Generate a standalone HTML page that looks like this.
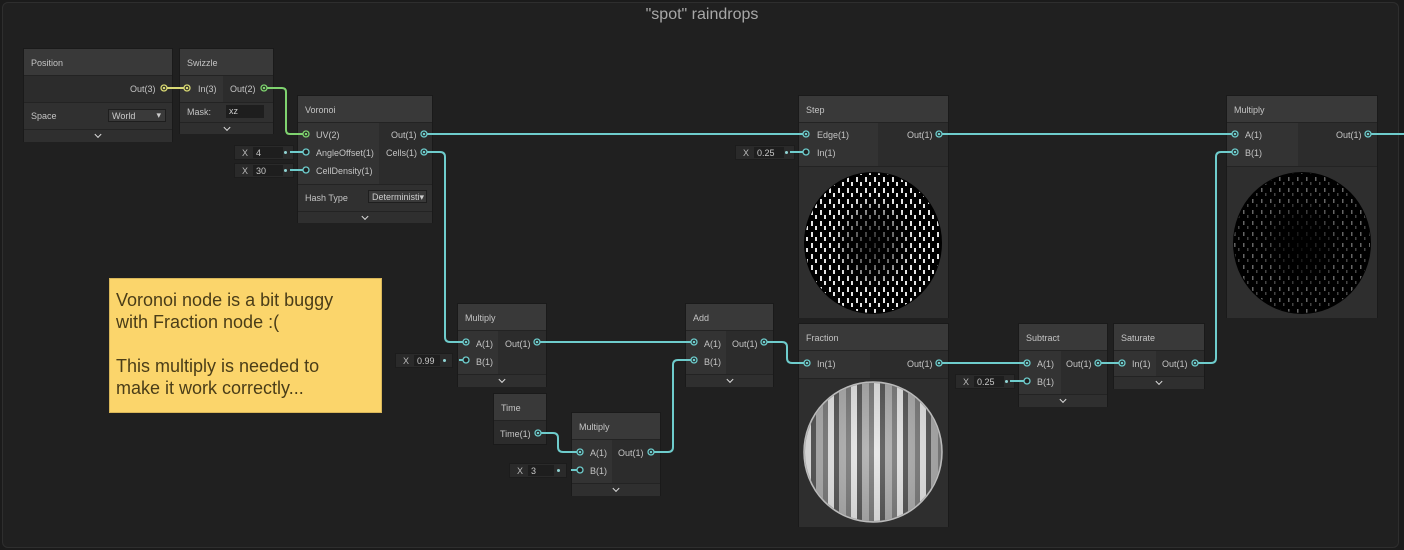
<!DOCTYPE html>
<html><head><meta charset="utf-8">
<style>
*{box-sizing:border-box;margin:0;padding:0}
body{width:1404px;height:550px;background:#1b1b1b;overflow:hidden;position:relative;font-family:"Liberation Sans",sans-serif;font-size:9px;color:#c4c4c4}
#grp{position:absolute;left:2px;top:2px;width:1397px;height:546px;background:#202020;border:1px solid #2e2e2e;border-radius:6px}
#title{position:absolute;left:0;width:1404px;top:6px;text-align:center;font-size:16px;color:#a8a8a8}
.n{position:absolute;background:#2c2c2c;border:1px solid #1a1a1a}
.h{position:absolute;left:0;right:0;top:0;background:#393939;border-bottom:1px solid #232323;padding:9px 0 0 7px;color:#c4c4c4}
.l{position:absolute;background:#333}
.t{position:absolute;white-space:nowrap}
.chev{position:absolute;left:0;right:0;background:#2f2f2f;border-top:1px solid #232323}
.chev::after{content:"";position:absolute;left:50%;top:2px;width:4px;height:4px;border-right:1.5px solid #ddd;border-bottom:1.5px solid #ddd;transform:translateX(-50%) rotate(45deg)}
.f{position:absolute;height:15px;background:#2a2a2a;border:1px solid #1c1c1c}
.f span{position:absolute;left:7px;top:2px;color:#bbb}
.f i{position:absolute;left:18px;top:1px;height:11px;width:30px;background:#1e1e1e;font-style:normal;padding:1px 3px;color:#c8c8c8}
.f b{position:absolute;right:6px;top:5px;width:3px;height:3px;border-radius:50%;background:#8fd3d3}
.pv{position:absolute;left:0;right:0;background:#2e2e2e;border-top:1px solid #232323}
.dd{position:absolute;background:#3a3a3a;border:1px solid #1e1e1e;padding:1px 3px;color:#ccc}
</style></head><body>
<div id="grp"></div>
<div id="title">"spot" raindrops</div>

<div class="n" style="left:23px;top:48px;width:150px;height:94px">
 <div class="h" style="height:27px">Position</div>
 <div class="t" style="left:106px;top:35px">Out(3)</div>
 <div style="position:absolute;left:0;right:0;top:53px;height:27px;background:#303030;border-top:1px solid #232323"></div>
 <div class="t" style="left:7px;top:62px">Space</div>
 <div class="dd" style="left:84px;top:60px;width:58px;height:13px">World<span style="position:absolute;right:4px;top:0">▾</span></div>
 <div class="chev" style="top:80px;height:13px"></div>
</div>
<div class="n" style="left:179px;top:48px;width:95px;height:86px">
 <div class="h" style="height:27px">Swizzle</div>
 <div class="l" style="left:0;top:27px;width:43px;height:26px"></div>
 <div class="t" style="left:18px;top:35px">In(3)</div>
 <div class="t" style="left:50px;top:35px">Out(2)</div>
 <div style="position:absolute;left:0;right:0;top:53px;height:20px;background:#303030;border-top:1px solid #232323"></div>
 <div class="t" style="left:7px;top:58px">Mask:</div>
 <div style="position:absolute;left:46px;top:56px;width:38px;height:13px;background:#1e1e1e;padding:1px 3px;color:#ccc">xz</div>
 <div class="chev" style="top:73px;height:12px"></div>
</div>
<div class="n" style="left:297px;top:95px;width:136px;height:128px">
 <div class="h" style="height:27px">Voronoi</div>
 <div class="l" style="left:0;top:27px;width:81px;height:61px"></div>
 <div class="t" style="left:18px;top:34px">UV(2)</div>
 <div class="t" style="left:18px;top:52px">AngleOffset(1)</div>
 <div class="t" style="left:18px;top:70px">CellDensity(1)</div>
 <div class="t" style="left:93px;top:34px">Out(1)</div>
 <div class="t" style="left:88px;top:52px">Cells(1)</div>
 <div style="position:absolute;left:0;right:0;top:88px;height:27px;background:#303030;border-top:1px solid #232323"></div>
 <div class="t" style="left:7px;top:97px">Hash Type</div>
 <div class="dd" style="left:70px;top:94px;width:59px;height:13px;overflow:hidden">Deterministi▾</div>
 <div class="chev" style="top:115px;height:12px"></div>
</div>
<div class="f" style="left:234px;top:145px;width:60px"><span>X</span><i>4</i><b></b></div>
<div class="f" style="left:234px;top:163px;width:60px"><span>X</span><i>30</i><b></b></div>

<div class="n" style="left:798px;top:95px;width:151px;height:223px">
 <div class="h" style="height:27px">Step</div>
 <div class="l" style="left:0;top:27px;width:79px;height:43px"></div>
 <div class="t" style="left:18px;top:34px">Edge(1)</div>
 <div class="t" style="left:18px;top:52px">In(1)</div>
 <div class="t" style="left:108px;top:34px">Out(1)</div>
 <div class="pv" style="top:70px;height:152px"></div>
</div>
<div class="f" style="left:735px;top:145px;width:60px"><span>X</span><i>0.25</i><b></b></div>

<div class="n" style="left:1226px;top:95px;width:152px;height:223px">
 <div class="h" style="height:27px">Multiply</div>
 <div class="l" style="left:0;top:27px;width:71px;height:43px"></div>
 <div class="t" style="left:18px;top:34px">A(1)</div>
 <div class="t" style="left:18px;top:52px">B(1)</div>
 <div class="t" style="left:109px;top:34px">Out(1)</div>
 <div class="pv" style="top:70px;height:152px"></div>
</div>

<div class="n" style="left:798px;top:323px;width:151px;height:204px">
 <div class="h" style="height:27px">Fraction</div>
 <div class="l" style="left:0;top:27px;width:71px;height:27px"></div>
 <div class="t" style="left:18px;top:35px">In(1)</div>
 <div class="t" style="left:108px;top:35px">Out(1)</div>
 <div class="pv" style="top:54px;height:149px"></div>
</div>

<div class="n" style="left:1018px;top:323px;width:90px;height:84px">
 <div class="h" style="height:27px">Subtract</div>
 <div class="l" style="left:0;top:27px;width:42px;height:43px"></div>
 <div class="t" style="left:18px;top:35px">A(1)</div>
 <div class="t" style="left:18px;top:53px">B(1)</div>
 <div class="t" style="left:47px;top:35px">Out(1)</div>
 <div class="chev" style="top:70px;height:13px"></div>
</div>
<div class="f" style="left:955px;top:374px;width:60px"><span>X</span><i>0.25</i><b></b></div>

<div class="n" style="left:1113px;top:323px;width:92px;height:66px">
 <div class="h" style="height:27px">Saturate</div>
 <div class="l" style="left:0;top:27px;width:42px;height:25px"></div>
 <div class="t" style="left:18px;top:35px">In(1)</div>
 <div class="t" style="left:48px;top:35px">Out(1)</div>
 <div class="chev" style="top:52px;height:13px"></div>
</div>

<div class="n" style="left:457px;top:303px;width:90px;height:84px">
 <div class="h" style="height:27px">Multiply</div>
 <div class="l" style="left:0;top:27px;width:40px;height:43px"></div>
 <div class="t" style="left:18px;top:35px">A(1)</div>
 <div class="t" style="left:18px;top:53px">B(1)</div>
 <div class="t" style="left:47px;top:35px">Out(1)</div>
 <div class="chev" style="top:70px;height:13px"></div>
</div>
<div class="f" style="left:395px;top:353px;width:58px"><span>X</span><i style="width:26px;overflow:hidden">0.99</i><b></b></div>

<div class="n" style="left:685px;top:303px;width:89px;height:84px">
 <div class="h" style="height:27px">Add</div>
 <div class="l" style="left:0;top:27px;width:40px;height:43px"></div>
 <div class="t" style="left:18px;top:35px">A(1)</div>
 <div class="t" style="left:18px;top:53px">B(1)</div>
 <div class="t" style="left:46px;top:35px">Out(1)</div>
 <div class="chev" style="top:70px;height:13px"></div>
</div>

<div class="n" style="left:493px;top:393px;width:54px;height:52px">
 <div class="h" style="height:27px">Time</div>
 <div class="t" style="left:6px;top:35px">Time(1)</div>
</div>

<div class="n" style="left:571px;top:412px;width:90px;height:84px">
 <div class="h" style="height:27px">Multiply</div>
 <div class="l" style="left:0;top:27px;width:40px;height:43px"></div>
 <div class="t" style="left:18px;top:35px">A(1)</div>
 <div class="t" style="left:18px;top:53px">B(1)</div>
 <div class="t" style="left:46px;top:35px">Out(1)</div>
 <div class="chev" style="top:70px;height:13px"></div>
</div>
<div class="f" style="left:509px;top:463px;width:58px"><span>X</span><i style="width:26px">3</i><b></b></div>

<div style="position:absolute;left:109px;top:278px;width:273px;height:135px;background:#fbd56b;border:1px solid #d8b65a;padding:10px 6px;font-size:18px;line-height:22px;color:#4a3d18">Voronoi node is a bit buggy<br>with Fraction node :(<br><br>This multiply is needed to<br>make it work correctly...</div>

<svg width="1404" height="550" style="position:absolute;left:0;top:0">
<defs>
 <pattern id="dash" width="9" height="11" patternUnits="userSpaceOnUse">
  <rect x="1" y="1" width="2" height="5" fill="#fff"/><rect x="5" y="6" width="2" height="4" fill="#fff"/>
 </pattern>
 <pattern id="dash2" width="9" height="11" patternUnits="userSpaceOnUse">
  <rect x="1" y="1" width="1.5" height="4" fill="#666"/><rect x="5" y="6" width="1.5" height="3" fill="#444"/>
 </pattern>
 <pattern id="strip" width="23" height="40" patternUnits="userSpaceOnUse">
  <rect width="6" height="40" fill="#f0f0f0"/><rect x="6" width="5" height="40" fill="#3a3a3a"/><rect x="11" width="7" height="40" fill="#a8a8a8"/><rect x="18" width="5" height="40" fill="#6a6a6a"/>
 </pattern>
 <radialGradient id="fg"><stop offset="0" stop-color="#ddd"/><stop offset="1" stop-color="#888"/></radialGradient>
 <radialGradient id="cdark"><stop offset="0" stop-color="#000" stop-opacity="0.85"/><stop offset="0.6" stop-color="#000" stop-opacity="0.5"/><stop offset="1" stop-color="#000" stop-opacity="0"/></radialGradient>
</defs>
<ellipse cx="873" cy="243" rx="69" ry="71" fill="#000"/>
<ellipse cx="873" cy="243" rx="68" ry="70" fill="url(#dash)" opacity="0.9"/>
<ellipse cx="873" cy="243" rx="40" ry="48" fill="url(#cdark)"/>
<ellipse cx="1302" cy="243" rx="69" ry="71" fill="#000"/>
<ellipse cx="1302" cy="243" rx="68" ry="70" fill="url(#dash2)"/>
<ellipse cx="1302" cy="243" rx="40" ry="48" fill="url(#cdark)"/>
<ellipse cx="873" cy="452" rx="69" ry="70" fill="url(#fg)"/>
<ellipse cx="873" cy="452" rx="68" ry="69" fill="url(#strip)" opacity="0.7"/>
<ellipse cx="873" cy="452" rx="69" ry="70" fill="none" stroke="#bbb" stroke-width="1.5"/>

<g fill="none" stroke-width="2">
 <path d="M164 88H187" stroke="#d8d874"/>
 <path d="M264 88H282Q286 88 286 92V130Q286 134 290 134H306" stroke="#7fd36f"/>
 <g stroke="#6ecccc">
  <path d="M424 134H806"/>
  <path d="M939 134H1235"/>
  <path d="M1368 134H1404"/>
  <path d="M424 152H440Q445 152 445 157V337Q445 342 450 342H466"/>
  <path d="M537 342H694"/>
  <path d="M538 433H553Q558 433 558 438V447Q558 452 563 452H580"/>
  <path d="M651 452H668Q673 452 673 447V365Q673 360 678 360H694"/>
  <path d="M764 342H782Q787 342 787 347V358Q787 363 792 363H807"/>
  <path d="M939 363H1027"/>
  <path d="M1098 363H1122"/>
  <path d="M1195 363H1211Q1216 363 1216 358V157Q1216 152 1221 152H1235"/>
  <path d="M290 152H306M290 170H306M790 152H806M459 360H466M1010 381H1027M571 470H580"/>
 </g>
</g>
<g stroke-width="1.3">
 <g fill="#202020" stroke="#d8d874"><circle cx="164" cy="88" r="3"/><circle cx="187" cy="88" r="3"/></g>
 <g fill="#d8d874"><circle cx="164" cy="88" r="1.3"/><circle cx="187" cy="88" r="1.3"/></g>
 <g fill="#202020" stroke="#7fd36f"><circle cx="264" cy="88" r="3"/><circle cx="306" cy="134" r="3"/></g>
 <g fill="#7fd36f"><circle cx="264" cy="88" r="1.3"/><circle cx="306" cy="134" r="1.3"/></g>
 <g fill="#202020" stroke="#6ecccc">
  <circle cx="424" cy="134" r="3"/><circle cx="424" cy="152" r="3"/><circle cx="806" cy="134" r="3"/><circle cx="939" cy="134" r="3"/>
  <circle cx="1235" cy="134" r="3"/><circle cx="1235" cy="152" r="3"/><circle cx="1368" cy="134" r="3"/>
  <circle cx="466" cy="342" r="3"/><circle cx="537" cy="342" r="3"/><circle cx="694" cy="342" r="3"/><circle cx="694" cy="360" r="3"/>
  <circle cx="764" cy="342" r="3"/><circle cx="807" cy="363" r="3"/><circle cx="939" cy="363" r="3"/><circle cx="1027" cy="363" r="3"/>
  <circle cx="1098" cy="363" r="3"/><circle cx="1122" cy="363" r="3"/><circle cx="1195" cy="363" r="3"/>
  <circle cx="538" cy="433" r="3"/><circle cx="580" cy="452" r="3"/><circle cx="651" cy="452" r="3"/>
  <circle cx="306" cy="152" r="3"/><circle cx="306" cy="170" r="3"/><circle cx="806" cy="152" r="3"/><circle cx="466" cy="360" r="3"/>
  <circle cx="1027" cy="381" r="3"/><circle cx="580" cy="470" r="3"/>
 </g>
 <g fill="#6ecccc">
  <circle cx="424" cy="134" r="1.3"/><circle cx="424" cy="152" r="1.3"/><circle cx="806" cy="134" r="1.3"/><circle cx="939" cy="134" r="1.3"/>
  <circle cx="1235" cy="134" r="1.3"/><circle cx="1235" cy="152" r="1.3"/><circle cx="1368" cy="134" r="1.3"/>
  <circle cx="466" cy="342" r="1.3"/><circle cx="537" cy="342" r="1.3"/><circle cx="694" cy="342" r="1.3"/><circle cx="694" cy="360" r="1.3"/>
  <circle cx="764" cy="342" r="1.3"/><circle cx="807" cy="363" r="1.3"/><circle cx="939" cy="363" r="1.3"/><circle cx="1027" cy="363" r="1.3"/>
  <circle cx="1098" cy="363" r="1.3"/><circle cx="1122" cy="363" r="1.3"/><circle cx="1195" cy="363" r="1.3"/>
  <circle cx="538" cy="433" r="1.3"/><circle cx="580" cy="452" r="1.3"/><circle cx="651" cy="452" r="1.3"/>
 </g>
</g>
</svg>
</body></html>
